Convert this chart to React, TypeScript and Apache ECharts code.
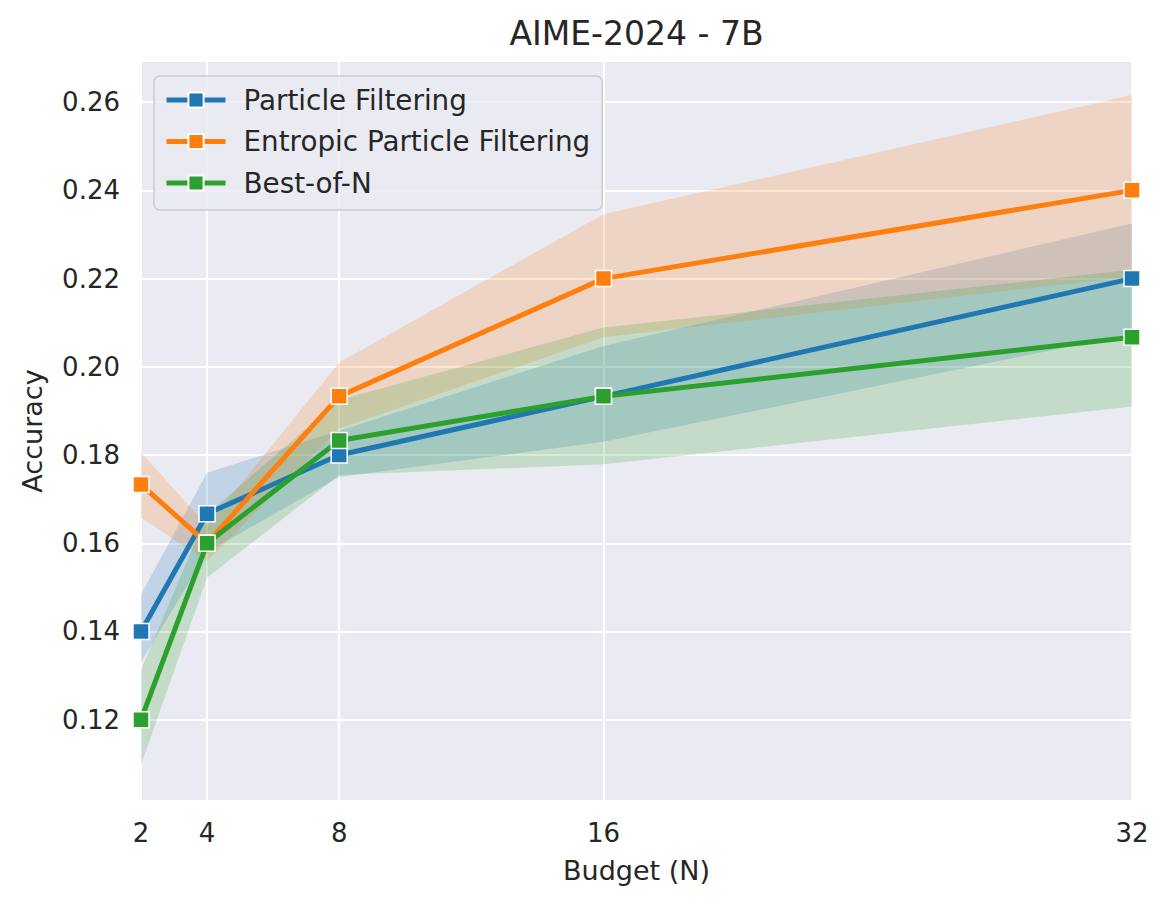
import React, { useEffect, useRef } from "react";
import * as echarts from "echarts";

const budgets = [2, 4, 8, 16, 32];
const xTicks = [2, 4, 8, 16, 32];
const yTicks = [0.12, 0.14, 0.16, 0.18, 0.2, 0.22, 0.24, 0.26];

const seriesNames = ["Particle Filtering", "Entropic Particle Filtering", "Best-of-N"];

const pfMean = [0.14, 0.1667, 0.18, 0.1933, 0.22];
const pfLow = [0.133, 0.158, 0.175, 0.183, 0.2075];
const pfHigh = [0.1484, 0.176, 0.1855, 0.2047, 0.2325];

const epfMean = [0.1733, 0.16, 0.1933, 0.22, 0.24];
const epfLow = [0.1658, 0.156, 0.186, 0.2067, 0.2205];
const epfHigh = [0.1806, 0.164, 0.201, 0.2346, 0.2616];

const bonMean = [0.12, 0.16, 0.1833, 0.1933, 0.2067];
const bonLow = [0.1098, 0.1522, 0.1755, 0.1779, 0.191];
const bonHigh = [0.1313, 0.1665, 0.1925, 0.2089, 0.222];

const colors = ["#1f77b4", "#ff7f0e", "#2ca02c"];
const bandFills = ["rgba(31,119,180,0.2)", "rgba(255,127,14,0.2)", "rgba(44,160,44,0.2)"];

const FONT = "DejaVu Sans";
const TEXT = "#262626";

function bandSeries(name: string, low: number[], high: number[], fill: string, z: number) {
  return {
    type: "custom",
    name,
    silent: true,
    z,
    data: [[budgets[0], low[0]]],
    renderItem: (_params: any, api: any) => {
      const top = budgets.map((x, i) => api.coord([x, high[i]]));
      const bottom = budgets.map((x, i) => api.coord([x, low[i]])).reverse();
      return {
        type: "polygon",
        shape: { points: top.concat(bottom) },
        style: { fill, stroke: "none" },
      };
    },
  };
}

function lineSeries(name: string, mean: number[], color: string, z: number) {
  return {
    type: "line",
    name,
    z,
    data: budgets.map((x, i) => [x, mean[i]]),
    symbol: "rect",
    symbolSize: 16,
    showSymbol: true,
    lineStyle: { color, width: 5 },
    itemStyle: { color, borderColor: "#ffffff", borderWidth: 1.5 },
    emphasis: { disabled: true },
  };
}

export default function App() {
  const ref = useRef<HTMLDivElement>(null);
  useEffect(() => {
    if (!ref.current) return;
    const chart = echarts.init(ref.current, null, { renderer: "svg" });
    chart.setOption({
      animation: false,
      backgroundColor: "#ffffff",
      textStyle: { fontFamily: FONT, color: TEXT },
      title: {
        text: "AIME-2024 - 7B",
        left: 636.5,
        textAlign: "center",
        top: 17,
        padding: 0,
        textStyle: { fontFamily: FONT, fontSize: 33, fontWeight: "normal", color: TEXT },
      },
      grid: {
        left: 141,
        right: 38,
        top: 62,
        bottom: 108,
        show: true,
        backgroundColor: "#eaeaf2",
        borderWidth: 0,
      },
      legend: {
        data: seriesNames,
        orient: "vertical",
        left: 154,
        top: 76,
        itemWidth: 59,
        itemHeight: 19,
        itemGap: 11.5,
        padding: [9, 12, 12, 10],
        backgroundColor: "rgba(234,234,242,0.8)",
        borderColor: "#cccccc",
        borderWidth: 1.5,
        borderRadius: 6,
        lineStyle: { width: 5 },
        textStyle: {
          fontFamily: FONT,
          fontSize: 27.8,
          color: TEXT,
          lineHeight: 30,
          padding: [0, 0, 0, 13],
        },
        selectedMode: false,
      },
      xAxis: {
        type: "value",
        min: 2,
        max: 32,
        name: "Budget (N)",
        nameLocation: "middle",
        nameGap: 57,
        nameTextStyle: { fontFamily: FONT, fontSize: 27, color: TEXT },
        axisLine: { show: false },
        axisTick: { show: false, customValues: xTicks },
        axisLabel: {
          customValues: xTicks,
          fontFamily: FONT,
          fontSize: 26,
          color: TEXT,
          margin: 20,
        },
        splitLine: { show: true, lineStyle: { color: "#ffffff", width: 2 } },
      },
      yAxis: {
        type: "value",
        min: 0.1018,
        max: 0.2691,
        name: "Accuracy",
        nameLocation: "middle",
        nameGap: 95,
        nameTextStyle: { fontFamily: FONT, fontSize: 27, color: TEXT },
        axisLine: { show: false },
        axisTick: { show: false, customValues: yTicks },
        axisLabel: {
          customValues: yTicks,
          formatter: (v: number) => v.toFixed(2),
          fontFamily: FONT,
          fontSize: 26,
          color: TEXT,
          margin: 21,
        },
        splitLine: { show: true, lineStyle: { color: "#ffffff", width: 2 } },
      },
      series: [
        bandSeries("band-pf", pfLow, pfHigh, bandFills[0], 1),
        bandSeries("band-epf", epfLow, epfHigh, bandFills[1], 1),
        bandSeries("band-bon", bonLow, bonHigh, bandFills[2], 1),
        lineSeries(seriesNames[0], pfMean, colors[0], 3),
        lineSeries(seriesNames[1], epfMean, colors[1], 4),
        lineSeries(seriesNames[2], bonMean, colors[2], 5),
      ],
    });
    return () => chart.dispose();
  }, []);
  return (
    <div
      ref={ref}
      style={{ position: "absolute", left: 0, top: 0, width: 1170, height: 908 }}
    />
  );
}
